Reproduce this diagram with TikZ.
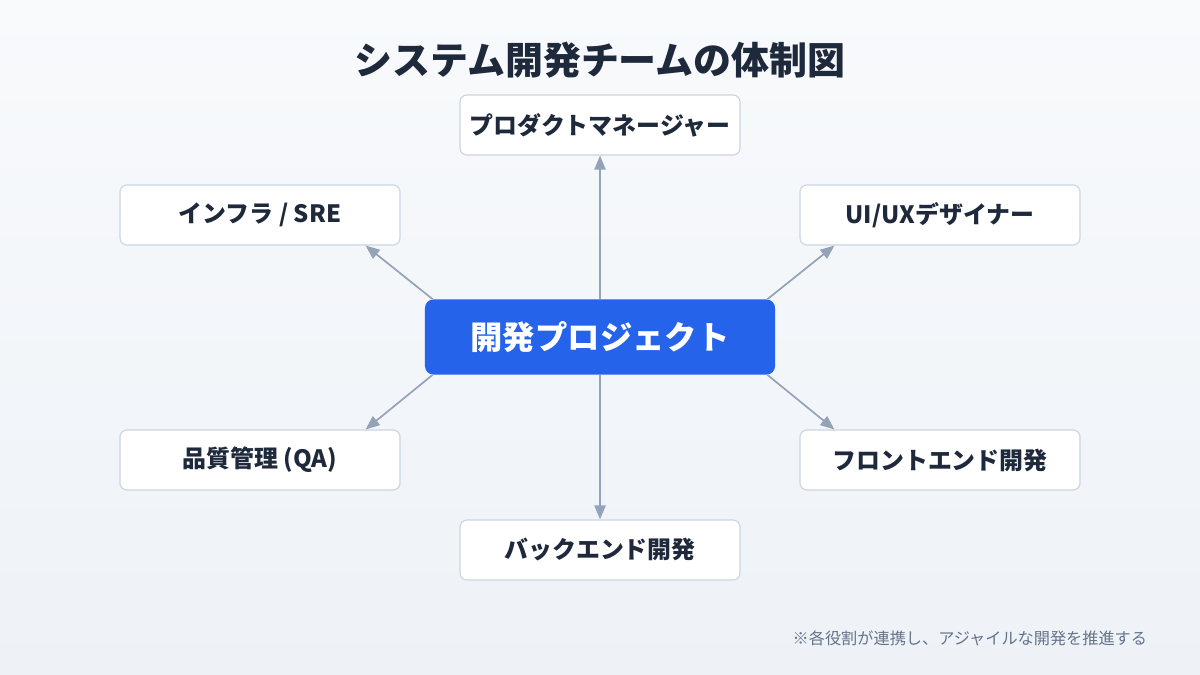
\documentclass[tikz,border=0pt]{standalone}
\usepackage{fontspec}
\setmainfont{Noto Sans CJK JP}
\usetikzlibrary{arrows.meta,positioning,calc}
\definecolor{ink}{HTML}{1E293B}
\definecolor{line}{HTML}{94A3B8}
\definecolor{rim}{HTML}{CBD5E1}
\definecolor{brand}{HTML}{2563EB}
\definecolor{note}{HTML}{64748B}
\definecolor{bgtop}{HTML}{F8FAFC}
\definecolor{bgbot}{HTML}{EEF2F7}

\begin{document}
\begin{tikzpicture}[
    x=0.025cm, y=-0.025cm,
    every node/.style={font=\bfseries},
    role/.style={rectangle, draw=rim, fill=white, thick, minimum width=7cm, minimum height=1.5cm, rounded corners=5pt, text=ink, font=\fontsize{17}{19}\selectfont\bfseries},
    hub/.style={rectangle, fill=brand, minimum width=8.75cm, minimum height=1.875cm, rounded corners=6pt, text=white, font=\fontsize{23}{26}\selectfont\bfseries},
    link/.style={-{Triangle[length=10pt,width=8pt]}, line width=1.2pt, line}
]

% Background
\shade[top color=bgtop, bottom color=bgbot] (0,0) rectangle (1200,675);
\useasboundingbox (0,0) rectangle (1200,675);

% Title
\node[text=ink, font=\fontsize{27}{31}\selectfont\bfseries] (title) at (600,60) {システム開発チームの体制図};

% Hub
\node[hub] (ctr) at (600,337) {開発プロジェクト};

% Roles
\node[role] (pm) at (600,125) {プロダクトマネージャー};
\node[role] (infra) at (260,215) {インフラ / SRE};
\node[role] (ux) at (940,215) {UI/UXデザイナー};
\node[role] (qa) at (260,460) {品質管理 (QA)};
\node[role] (front) at (940,460) {フロントエンド開発};
\node[role] (back) at (600,550) {バックエンド開発};

% Links
\draw[link] (ctr) -- (pm);
\draw[link] (ctr) -- (back);
\draw[link] ($(ctr.north west)+(8,0)$) -- ($(infra.south east)+(-35,0)$);
\draw[link] ($(ctr.north east)+(-8,0)$) -- ($(ux.south west)+(35,0)$);
\draw[link] ($(ctr.south west)+(8,0)$) -- ($(qa.north east)+(-35,0)$);
\draw[link] ($(ctr.south east)+(-8,0)$) -- ($(front.north west)+(35,0)$);

% Footnote
\node[anchor=east, text=note, font=\fontsize{11.5}{13}\selectfont] (foot) at (1152,638) {※各役割が連携し、アジャイルな開発を推進する};

\end{tikzpicture}
\end{document}
